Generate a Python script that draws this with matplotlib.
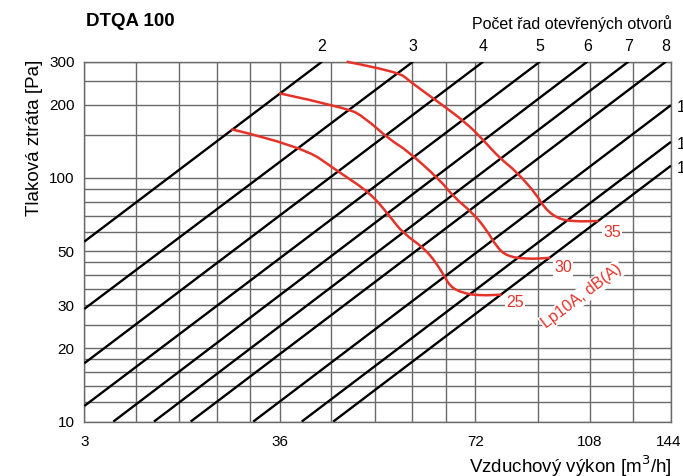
import matplotlib
matplotlib.use("Agg")
import matplotlib.pyplot as plt
from matplotlib.ticker import NullFormatter, FixedLocator
from matplotlib.path import Path
from matplotlib.patches import PathPatch
from matplotlib.transforms import ScaledTranslation
import numpy as np

plt.rcParams['font.family'] = ['Liberation Sans', 'DejaVu Sans']

# ---------------- data ----------------
x_tick_values = [18, 36, 72, 108, 144]
x_tick_labels = ["3", "36", "72", "108", "144"]
x_grid_minor = [21.6, 25.2, 28.8, 32.4, 43.2, 50.4, 57.6, 64.8, 90, 126]
y_tick_values = [10, 20, 30, 50, 100, 200, 300]
y_grid_minor = [12, 14, 16, 18, 25, 35, 40, 45, 60, 70, 80, 90, 150, 250]

# black characteristic lines (start / end points)
line_q_start = [18, 18, 18, 18, 19.95, 23.04, 26.24, 32.76, 38.9, 43.5]
line_p_start = [54.8, 29.0, 17.35, 11.59, 10, 10, 10, 10, 10, 10]
line_q_end = [41.8, 57.7, 74.0, 90.5, 107.0, 123.8, 141.4, 144, 144, 144]
line_p_end = [300, 300, 300, 300, 300, 300, 300, 199, 140.7, 112.3]
top_labels = ["2", "3", "4", "5", "6", "7", "8"]
right_labels = ["10", "11", "12"]

# red noise curves Lp10A
noise25_q = [30.3, 38.9, 44.3, 49.6, 53.2, 55.7, 60.6, 64.2, 65.8, 69.0, 73.2, 79.0]
noise25_p = [158.5, 135.3, 106.1, 86.8, 69.4, 59.3, 50.6, 40.6, 35.8, 33.6, 32.9, 33.2]
noise30_q = [35.9, 45.8, 48.7, 53.2, 56.4, 63.5, 66.6, 71.4, 74.9, 77.6, 80.4, 86.3, 93.8]
noise30_p = [222.7, 193.8, 176.3, 143.2, 130.3, 98.1, 83.8, 71.6, 61.2, 52.2, 47.8, 46.4, 47.0]
noise35_q = [45.6, 54.8, 57.1, 63.5, 69.8, 74.0, 78.5, 83.3, 89.5, 91.6, 96.0, 101.8, 111.3]
noise35_p = [300, 273.2, 248.5, 202.6, 167.7, 143.2, 120.5, 106.1, 85.2, 76.2, 68.3, 66.2, 66.6]
noise_labels = ["25", "30", "35"]
noise_label_q = [82.8, 98.2, 116.8]
noise_label_p = [30.7, 42.7, 59.7]

RED = '#e5332a'
GRID = '#6a6a6a'

W, H = 683, 476
fig = plt.figure(figsize=(W / 100, H / 100), dpi=100)
L, R, T, B = 84.3, 671, 61.7, 421.6
ax = fig.add_axes([L / W, 1 - B / H, (R - L) / W, (B - T) / H])
ax.set_xscale('log')
ax.set_yscale('log')
ax.set_xlim(18, 144)
ax.set_ylim(10, 300)

ax.xaxis.set_major_locator(FixedLocator(x_tick_values))
ax.xaxis.set_minor_locator(FixedLocator(x_grid_minor))
ax.set_xticklabels(x_tick_labels)
ax.xaxis.set_minor_formatter(NullFormatter())
ax.yaxis.set_major_locator(FixedLocator(y_tick_values))
ax.yaxis.set_minor_locator(FixedLocator(y_grid_minor))
ax.set_yticklabels([str(v) for v in y_tick_values])
ax.yaxis.set_minor_formatter(NullFormatter())
ax.tick_params(which='both', length=0, labelsize=11)
ax.tick_params(axis='x', pad=10)
ax.tick_params(axis='y', pad=7)
ax.grid(which='both', color=GRID, linewidth=1.0)
ax.set_axisbelow(True)
for s in ax.spines.values():
    s.set_color(GRID)
    s.set_linewidth(1.0)
last = ax.get_xticklabels()[-1]
last.set_transform(last.get_transform() + ScaledTranslation(-2 / 72, 0, fig.dpi_scale_trans))

for qs, ps, qe, pe in zip(line_q_start, line_p_start, line_q_end, line_p_end):
    ax.plot([qs, qe], [ps, pe], color='black', linewidth=1.7, solid_capstyle='butt', zorder=3)

for lab, q in zip(top_labels, line_q_end[:7]):
    ax.annotate(lab, xy=(q, 300), xytext=(0, 11), textcoords='offset points',
                ha='center', va='center', fontsize=11.5, annotation_clip=False)
for lab, p in zip(right_labels, line_p_end[7:]):
    ax.annotate(lab, xy=(144, p), xytext=(4, -2), textcoords='offset points',
                ha='left', va='center', fontsize=11.5, annotation_clip=False)


def smooth_curve(qs, ps):
    qs = np.asarray(qs, float)
    ps = np.asarray(ps, float)
    verts = [(qs[0], ps[0])]
    codes = [Path.MOVETO]
    for i in range(1, len(qs) - 1):
        mq = np.sqrt(qs[i] * qs[i + 1])
        mp = np.sqrt(ps[i] * ps[i + 1])
        verts += [(qs[i], ps[i]), (mq, mp)]
        codes += [Path.CURVE3, Path.CURVE3]
    verts.append((qs[-1], ps[-1]))
    codes.append(Path.LINETO)
    return Path(verts, codes)


for qs, ps in [(noise25_q, noise25_p), (noise30_q, noise30_p), (noise35_q, noise35_p)]:
    patch = PathPatch(smooth_curve(qs, ps), facecolor='none', edgecolor=RED,
                      linewidth=1.8, zorder=4, clip_on=False)
    ax.add_patch(patch)

for lab, q, p in zip(noise_labels, noise_label_q, noise_label_p):
    ax.text(q, p, lab, color=RED, fontsize=11.5, ha='center', va='center', zorder=5,
            bbox=dict(facecolor='white', edgecolor='none', pad=1))
ax.text(105.0, 32.8, "Lp10A, dB(A)", color=RED, fontsize=11.5, ha='center', va='center',
        rotation=37, rotation_mode='anchor', zorder=5,
        bbox=dict(facecolor='white', edgecolor='none', pad=1))

fig.text(86 / W, 1 - 21 / H, "DTQA 100", fontsize=13.5, fontweight='bold', ha='left', va='center')
fig.text(672 / W, 1 - 24 / H, "Počet řad otevřených otvorů", fontsize=11.5, ha='right', va='center')
fig.text(672 / W, 1 - 466 / H, "Vzduchový výkon [m$^3$/h]", fontsize=13.5, ha='right', va='center')
fig.text(35 / W, 1 - 138 / H, "Tlaková ztráta [Pa]", fontsize=13.5, ha='center', va='center', rotation=90)

fig.savefig("out.png", dpi=100)
